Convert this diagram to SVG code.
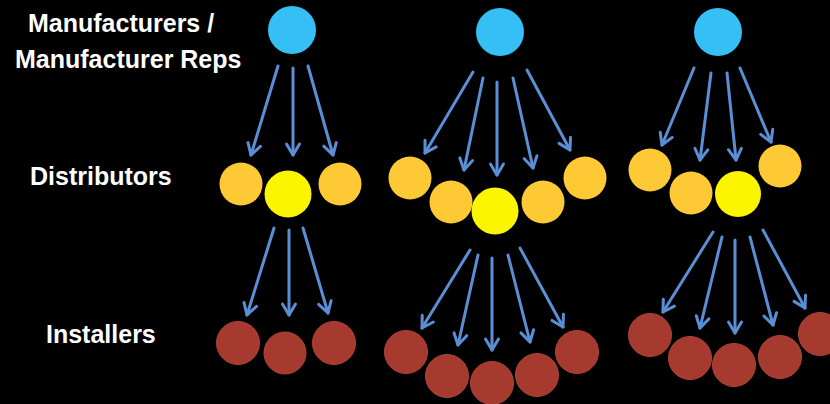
<svg xmlns="http://www.w3.org/2000/svg" width="830" height="404" viewBox="0 0 830 404">
<defs>
<marker id="ah" markerUnits="userSpaceOnUse" markerWidth="24" markerHeight="24" viewBox="-14 -12 18 24" refX="0" refY="0" orient="auto">
<path d="M-11,-6.5 L0,0 L-11,6.5" fill="none" stroke="#5A8FD6" stroke-width="3" stroke-linecap="round" stroke-linejoin="round"/>
</marker>
<style>
.lbl{font-family:"Liberation Sans",Arial,sans-serif;font-weight:bold;font-size:25px;fill:#FFFFFF}
.m{fill:#36BFF5}
.d{fill:#FDC935}
.dy{fill:#FCF500}
.i{fill:#A63A2F;stroke:#B04438;stroke-width:1}
.c line{stroke:#5A8FD6;stroke-width:3;stroke-linecap:round;marker-end:url(#ah)}
</style>
</defs>
<rect width="830" height="404" fill="#000000"/>
<g id="labels">
<text class="lbl" x="28" y="32">Manufacturers /</text>
<text class="lbl" x="15" y="68">Manufacturer Reps</text>
<text class="lbl" x="30" y="185">Distributors</text>
<text class="lbl" x="46" y="343">Installers</text>
</g>
<g id="connectors" class="c">
<line x1="278" y1="66" x2="251" y2="155"/>
<line x1="293" y1="68" x2="293" y2="155"/>
<line x1="308" y1="66" x2="333" y2="155"/>
<line x1="274" y1="228" x2="247" y2="315"/>
<line x1="289" y1="230" x2="289" y2="315"/>
<line x1="303" y1="228" x2="328" y2="313"/>
<line x1="473" y1="72" x2="425" y2="153"/>
<line x1="483" y1="78" x2="464" y2="170"/>
<line x1="497" y1="82" x2="497" y2="175"/>
<line x1="513" y1="78" x2="533" y2="168"/>
<line x1="527" y1="70" x2="570" y2="150"/>
<line x1="470" y1="250" x2="422" y2="328"/>
<line x1="478" y1="255" x2="458" y2="345"/>
<line x1="492" y1="258" x2="492" y2="350"/>
<line x1="508" y1="255" x2="530" y2="342"/>
<line x1="520" y1="248" x2="563" y2="327"/>
<line x1="694" y1="68" x2="662" y2="145"/>
<line x1="711" y1="73" x2="700" y2="160"/>
<line x1="727" y1="73" x2="736" y2="160"/>
<line x1="740" y1="68" x2="771" y2="142"/>
<line x1="713" y1="232" x2="663" y2="312"/>
<line x1="722" y1="237" x2="700" y2="328"/>
<line x1="735" y1="240" x2="735" y2="333"/>
<line x1="750" y1="237" x2="773" y2="325"/>
<line x1="763" y1="230" x2="805" y2="308"/>
</g>
<g id="m1"><circle class="m" cx="292" cy="30" r="24"/></g>
<g id="m2"><circle class="m" cx="500" cy="32" r="24"/></g>
<g id="m3"><circle class="m" cx="718" cy="32" r="24"/></g>
<g id="d1a"><circle class="d" cx="241" cy="184" r="21.5"/></g>
<g id="d1b"><circle class="dy" cx="288" cy="194" r="23.5"/></g>
<g id="d1c"><circle class="d" cx="340" cy="184" r="21.5"/></g>
<g id="d2a"><circle class="d" cx="410" cy="178" r="21.5"/></g>
<g id="d2b"><circle class="d" cx="451" cy="202" r="21.5"/></g>
<g id="d2c"><circle class="dy" cx="495" cy="211" r="23.5"/></g>
<g id="d2d"><circle class="d" cx="543" cy="202" r="21.5"/></g>
<g id="d2e"><circle class="d" cx="585" cy="178" r="21.5"/></g>
<g id="d3a"><circle class="d" cx="650" cy="170" r="21.5"/></g>
<g id="d3b"><circle class="d" cx="691" cy="193" r="21.5"/></g>
<g id="d3c"><circle class="dy" cx="738" cy="194" r="23"/></g>
<g id="d3d"><circle class="d" cx="780" cy="166" r="21.5"/></g>
<g id="i1a"><circle class="i" cx="238" cy="343" r="21.5"/></g>
<g id="i1b"><circle class="i" cx="285" cy="353" r="21"/></g>
<g id="i1c"><circle class="i" cx="334" cy="343" r="21.5"/></g>
<g id="i2a"><circle class="i" cx="406" cy="352" r="21.5"/></g>
<g id="i2b"><circle class="i" cx="447" cy="376" r="21.5"/></g>
<g id="i2c"><circle class="i" cx="492" cy="383" r="21.5"/></g>
<g id="i2d"><circle class="i" cx="537" cy="375" r="21.5"/></g>
<g id="i2e"><circle class="i" cx="577" cy="352" r="21.5"/></g>
<g id="i3a"><circle class="i" cx="650" cy="335" r="21.5"/></g>
<g id="i3b"><circle class="i" cx="690" cy="358" r="21.5"/></g>
<g id="i3c"><circle class="i" cx="734" cy="365" r="21.5"/></g>
<g id="i3d"><circle class="i" cx="780" cy="357" r="21.5"/></g>
<g id="i3e"><circle class="i" cx="820" cy="334" r="21.5"/></g>
</svg>
